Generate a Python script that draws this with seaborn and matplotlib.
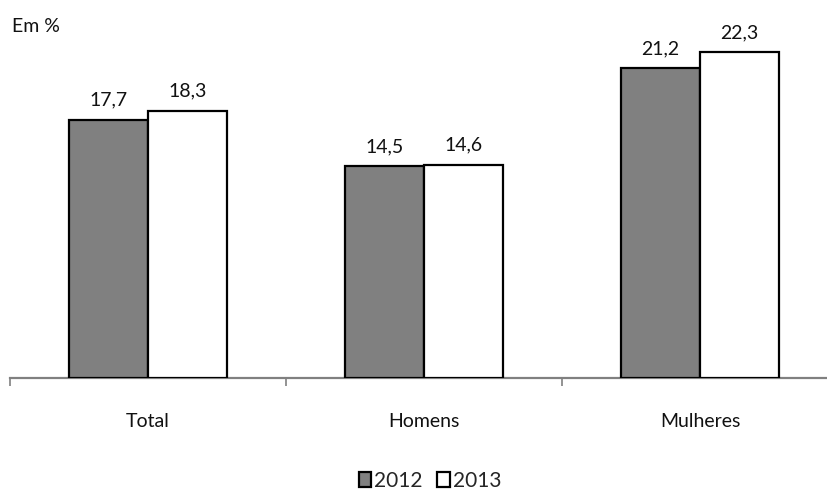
import matplotlib
matplotlib.use("Agg")
import matplotlib.pyplot as plt
import matplotlib.patches as mpatches
import seaborn as sns
import pandas as pd

categories = ["Total", "Homens", "Mulheres"]
years = ["2012", "2013"]
values_2012 = [17.7, 14.5, 21.2]
values_2013 = [18.3, 14.6, 22.3]
colors = {"2012": "#808080", "2013": "#ffffff"}

df = pd.DataFrame({
    "categoria": categories * 2,
    "ano": [years[0]] * 3 + [years[1]] * 3,
    "valor": values_2012 + values_2013,
})

sns.set_theme(style="white")
plt.rcParams["font.family"] = ["Lato", "DejaVu Sans"]

fig = plt.figure(figsize=(8.28, 4.91), dpi=100)
ax = fig.add_axes([10 / 828, 113 / 491, 818 / 828, 365 / 491])

sns.barplot(data=df, x="categoria", y="valor", hue="ano", order=categories,
            hue_order=years, palette=colors, width=0.572, gap=0,
            edgecolor="black", linewidth=1.6, legend=False, ax=ax, zorder=3)

for container in ax.containers:
    labels = [f"{b.get_height():.1f}".replace(".", ",") for b in container]
    ax.bar_label(container, labels=labels, padding=8, fontsize=14, color="#111111")

ax.set_xlim(-0.5, 2.464)
ax.set_ylim(0, 25)
ax.set_xlabel("")
ax.set_ylabel("")
ax.set_yticks([])
for s in ["top", "right", "left"]:
    ax.spines[s].set_visible(False)
ax.spines["bottom"].set_color("#808080")
ax.spines["bottom"].set_linewidth(1.6)

ax.set_xticks([0, 1, 2])
ax.set_xticklabels(categories, fontsize=14, color="#111111")
ax.tick_params(axis="x", length=0, pad=25)
ax.set_xticks([-0.5, 0.5, 1.5], minor=True)
ax.tick_params(axis="x", which="minor", bottom=True, length=6, width=1.2,
               color="#808080", direction="out")

fig.text(12 / 828, 1 - 27 / 491, "Em %", fontsize=14, color="#111111", va="center")

handles = [mpatches.Patch(facecolor=colors[y], edgecolor="black", linewidth=1.6, label=y)
           for y in years]
fig.legend(handles=handles, loc="center", bbox_to_anchor=(430 / 828, 1 - 481 / 491),
           ncol=2, frameon=False, fontsize=15, handlelength=0.6, handleheight=0.7,
           handletextpad=0.15, columnspacing=0.7)

fig.savefig("out.png", dpi=100)
